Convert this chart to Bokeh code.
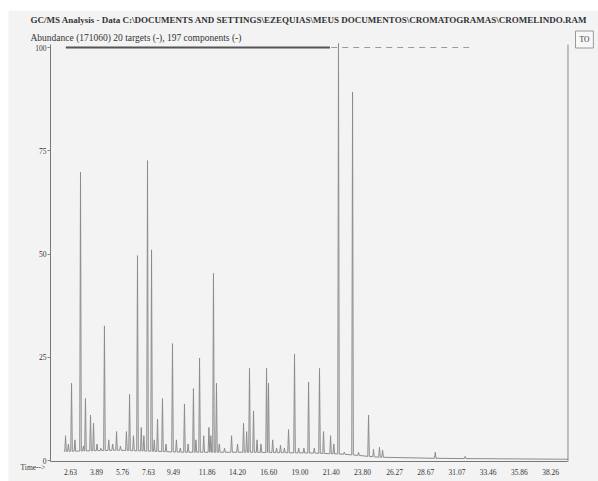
import numpy as np
from bokeh.plotting import figure
from bokeh.models import Range1d, FixedTicker, Label, BoxAnnotation
from bokeh.embed import file_html
from bokeh.resources import INLINE

# ---- data (retention time in min, abundance in %) ----
peak_time = [0.98, 1.44, 2.13, 2.51, 2.90, 3.13, 3.97, 4.90, 5.66, 5.90,
             6.51, 7.28, 7.59, 8.05, 8.43, 9.20, 10.12, 10.81, 11.28, 12.35,
             12.58, 13.74, 14.66, 15.12, 15.43, 16.43, 16.58, 17.50, 18.12, 18.58,
             19.66, 20.50, 20.81, 21.35, 21.96, 23.04, 24.27, 24.65, 25.11, 25.35,
             29.40, 31.70,
             1.20, 1.70, 2.35, 3.40, 3.70, 4.30, 4.60, 5.20, 6.20, 6.80,
             7.00, 7.80, 8.70, 9.50, 9.80, 10.40, 11.00, 11.60, 12.00, 12.15,
             12.80, 13.20, 14.20, 14.90, 15.70, 16.00, 16.90, 17.20, 17.80, 18.90,
             19.30, 20.10, 21.60, 22.40, 23.50]
peak_height = [6, 18.7, 69.8, 15, 11, 9, 32.6, 7, 7, 16,
               49.6, 72.6, 51, 10, 15, 28.3, 13.7, 17.4, 24.8, 45.3,
               18.7, 6, 9, 22.3, 12, 22.3, 18.7, 3.7, 7.5, 25.8,
               19, 22.3, 7, 6, 101, 89.2, 11, 2.7, 3.2, 2.5,
               2, 1,
               4, 5, 3.5, 4, 3, 5, 4, 3.5, 6, 8,
               6, 5, 4, 5, 3, 4, 5, 6, 8, 6,
               4, 3, 4, 7, 5, 4, 5, 3, 3, 3,
               3, 3, 4, 2, 2]
base_time = [0.85, 5.0, 10.0, 15.0, 20.0, 22.5, 25.0, 30.0, 39.6]
base_level = [2.2, 2.5, 2.0, 2.0, 1.8, 1.5, 0.8, 0.5, 0.3]

tick_pos = [1.36, 3.36, 5.36, 7.36, 9.28, 11.86, 14.20, 16.60, 19.00, 21.40,
            23.80, 26.27, 28.67, 31.07, 33.46, 35.86, 38.26]
tick_labels = ["2.63", "3.89", "5.76", "7.63", "9.49", "11.86", "14.20", "16.60",
               "19.00", "21.40", "23.80", "26.27", "28.67", "31.07", "33.46",
               "35.86", "38.26"]
y_ticks = [0, 25, 50, 75, 100]

title_1 = ("GC/MS Analysis - Data C:\\DOCUMENTS AND SETTINGS\\EZEQUIAS\\MEUS DOCUMENTOS"
           "\\CROMATOGRAMAS\\CROMELINDO.RAM")
title_2 = "Abundance (171060) 20 targets (-), 197 components (-)"

# ---- build the trace from peaks ----
order = np.argsort(peak_time)
xs = [base_time[0]]
ys = [base_level[0]]
hw = 0.06
for i in order:
    t = peak_time[i]
    h = peak_height[i]
    b = float(np.interp(t, base_time, base_level))
    xs += [t - hw, t, t + hw]
    ys += [b, h, b]
xs.append(base_time[-1])
ys.append(base_level[-1])

W, H = 598, 481
BG = "#f3f3f3"
TXT = "#333333"
FONT = "Liberation Serif"
X0, X1 = -0.18, 39.6      # axis extent (time)
Y0, Y1 = -0.3, 100.7      # axis extent (abundance)

# pixel <-> data mapping of the canvas
PX_T0, PX_PER_T = 52.3, 13.01
PY_V0, PY_PER_V = 460.0, 4.13


def t_of(px):
    return (px - PX_T0) / PX_PER_T


def v_of(py):
    return (PY_V0 - py) / PY_PER_V


# frame covers the whole canvas; axes are pinned inside with fixed_location
p = figure(width=W, height=H, output_backend="svg", toolbar_location=None,
           x_range=Range1d(t_of(0), t_of(W)), y_range=Range1d(v_of(H), v_of(0)),
           min_border_left=0, min_border_right=0, min_border_top=0,
           min_border_bottom=0)
p.title.visible = False
p.background_fill_color = "white"
p.border_fill_color = "white"
p.outline_line_color = None
p.grid.visible = False

# grey scanned panel
p.add_layout(BoxAnnotation(left=t_of(8), top=v_of(10), fill_color=BG, fill_alpha=1,
                           line_color=None, level="underlay"))

p.line(xs, ys, line_color="#8c8c8c", line_width=1)

# top band of target markers
p.line([1.0, 21.3], [100.0, 100.0], line_color="#555555", line_width=1.8)
p.line([21.4, 32.0], [100.0, 100.0], line_color="#9a9a9a", line_width=1.2,
       line_dash="6 5")

# right border of the plot box
p.line([X1, X1], [Y0, Y1], line_color="#8a8a8a", line_width=1)

for ax in (p.xaxis[0], p.yaxis[0]):
    ax.axis_line_color = "#777777"
    ax.minor_tick_line_color = None
    ax.major_label_text_font = FONT
    ax.major_label_text_font_size = "7.5px"
    ax.major_label_text_color = TXT

p.xaxis.fixed_location = Y0
p.xaxis.bounds = (X0, X1)
p.xaxis.ticker = FixedTicker(ticks=tick_pos)
p.xaxis.major_label_overrides = {t: l for t, l in zip(tick_pos, tick_labels)}
p.xaxis.major_tick_line_color = None
p.xaxis.major_label_standoff = 1

p.yaxis.fixed_location = X0
p.yaxis.bounds = (Y0, Y1)
p.yaxis.ticker = FixedTicker(ticks=y_ticks)
p.yaxis.major_tick_out = 3
p.yaxis.major_tick_in = 0
p.yaxis.major_tick_line_color = "#888888"
p.yaxis.major_label_standoff = 1


def put(text, x_img, y_img, size, bold=False, **kw):
    p.add_layout(Label(x=x_img, y=H - y_img, x_units="screen", y_units="screen",
                       text=text, text_font=FONT, text_font_size=size,
                       text_font_style="bold" if bold else "normal",
                       text_color=TXT, text_baseline="middle", **kw))


put(title_1, 30, 19, "9px", bold=True)
put(title_2, 30, 37, "9.5px")
put("TO", 575, 39, "7.5px", border_line_color="#999999",
    background_fill_color="#f8f8f8", padding=4)
put("Time-->", 20, 467, "7.5px")

open("out.html", "w").write(file_html(p, INLINE))
